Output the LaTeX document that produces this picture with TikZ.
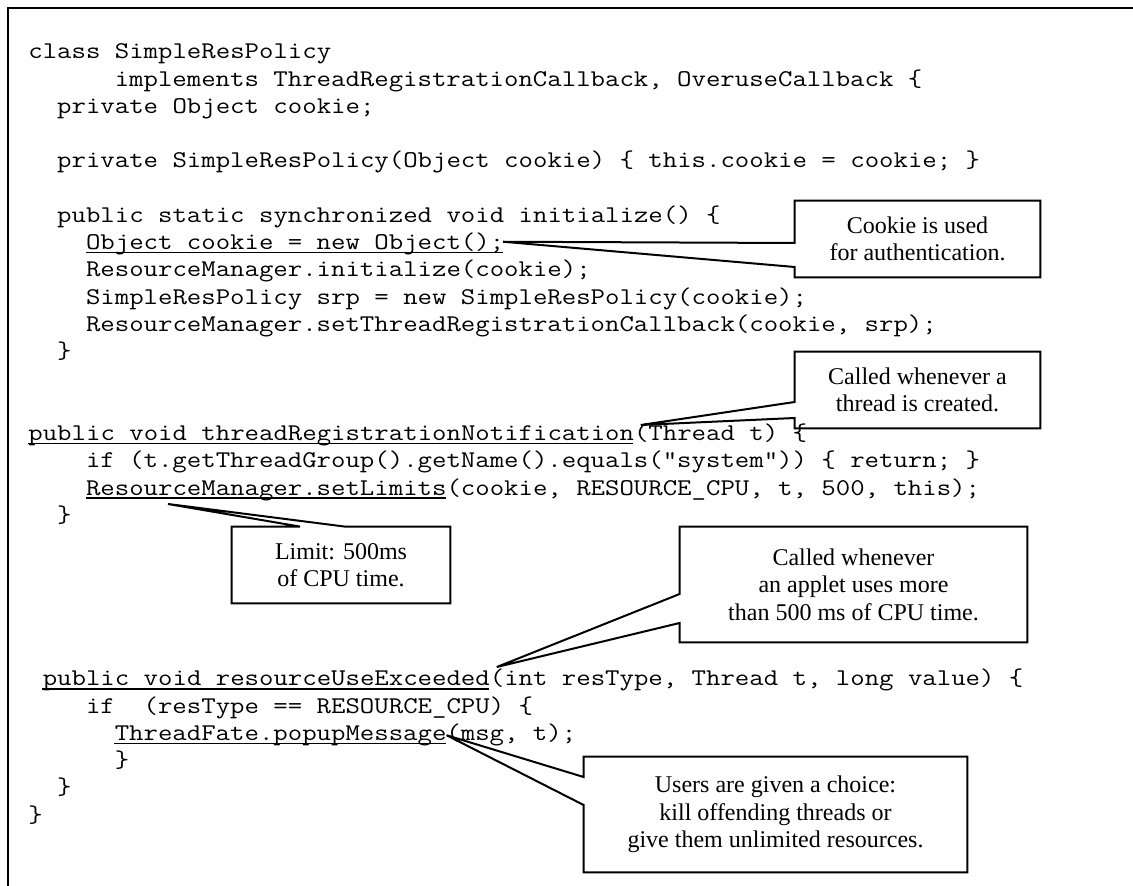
\documentclass[tikz,border=0pt]{standalone}
\usepackage{fontspec}
\setmainfont{Liberation Serif}
\newfontfamily\codefont{lmmono12-regular}[Extension=.otf, FakeStretch=1.1667]
\usetikzlibrary{calc,positioning}
\newcommand{\cw}{14.4}
\tikzstyle{code} = [anchor=base west, inner sep=0pt, font=\fontsize{12}{13.6}\selectfont\codefont\frenchspacing]
\tikzstyle{uline} = [line width=0.75pt]
\tikzstyle{note} = [align=center, inner sep=0pt, font=\fontsize{12}{13.8}\selectfont]
\tikzstyle{callout} = [line width=1pt]
\tikzstyle{frame} = [line width=1pt]

\begin{document}
\begin{tikzpicture}[x=0.5pt, y=-0.5pt]
    \useasboundingbox (0,0) rectangle (1133,886);
    \draw[frame] (8,886) -- (8,8) -- (1133,8);

    % code listing
    \node[code] (l0) at (28,59) {class SimpleResPolicy};
    \node[code] (l1) at (114.4,86.25) {implements ThreadRegistrationCallback, OveruseCallback \{};
    \node[code] (l2) at (56.8,113.5) {private Object cookie;};
    \node[code] (l4) at (56.8,168) {private SimpleResPolicy(Object cookie) \{ this.cookie = cookie; \}};
    \node[code] (l6) at (56.8,222.5) {public static synchronized void initialize() \{};
    \node[code] (l7) at (85.6,249.75) {Object cookie = new Object();};
    \node[code] (l8) at (85.6,277) {ResourceManager.initialize(cookie);};
    \node[code] (l9) at (85.6,304.25) {SimpleResPolicy srp = new SimpleResPolicy(cookie);};
    \node[code] (l10) at (85.6,331.5) {ResourceManager.setThreadRegistrationCallback(cookie, srp);};
    \node[code] (l11) at (56.8,358.75) {\}};
    \node[code] (l14) at (28,440.5) {public void threadRegistrationNotification(Thread t) \{};
    \node[code] (l15) at (85.6,467.75) {if (t.getThreadGroup().getName().equals("system")) \{ return; \}};
    \node[code] (l16) at (85.6,495) {ResourceManager.setLimits(cookie, RESOURCE\_CPU, t, 500, this);};
    \node[code] (l17) at (56.8,522.25) {\}};
    \node[code] (l23) at (42.4,685.75) {public void resourceUseExceeded(int resType, Thread t, long value) \{};
    \node[code] (l24) at (85.6,713) {if\ \ (resType == RESOURCE\_CPU) \{};
    \node[code] (l25) at (114.4,740.25) {ThreadFate.popupMessage(msg, t);};
    \node[code] (l26) at (114.4,767.5) {\}};
    \node[code] (l27) at (56.8,794.75) {\}};
    \node[code] (l28) at (28,822) {\}};

    % underlined parts
    \draw[uline] ([yshift=-1.5pt]l7.base west) -- ++(29*\cw,0);
    \draw[uline] ([yshift=-1.5pt]l14.base west) -- ++(42*\cw,0);
    \draw[uline] ([yshift=-1.5pt]l16.base west) -- ++(25*\cw,0);
    \draw[uline] ([yshift=-1.5pt]l23.base west) -- ++(31*\cw,0);
    \draw[uline] ([yshift=-1.5pt]l25.base west) -- ++(23*\cw,0);

    % pointer tips
    \coordinate (tipcookie) at ($(l7.base west)+(29*\cw,-8)$);
    \coordinate (tipthread) at ($(l14.base west)+(42*\cw+8,-15.5)$);
    \coordinate (tiplimit) at ($(l16.base west)+(82.4,9)$);
    \coordinate (tipapplet) at ($(l23.base west)+(31*\cw+8,-18.75)$);
    \coordinate (tipusers) at ($(l25.base west)+(23*\cw+1,-5)$);

    % callouts
    \node[note, minimum width=122.5pt, minimum height=38pt] (cookie) at (917.5,239) {Cookie is used\\for authentication.};
    \node[note, minimum width=122.5pt, minimum height=38pt] (thread) at (917.5,390) {Called whenever a\\thread is created.};
    \node[note, minimum width=109pt, minimum height=38pt] (limit) at (341,565) {Limit: 500ms\\of CPU time.};
    \node[note, minimum width=173.5pt, minimum height=57.5pt] (applet) at (853.5,584.5) {Called whenever\\an applet uses more\\than 500 ms of CPU time.};
    \node[note, minimum width=191.5pt, minimum height=57.5pt] (users) at (775.5,814.5) {Users are given a choice:\\kill offending threads or\\give them unlimited resources.};

    \draw[callout] (tipcookie) -- ([yshift=-2pt]cookie.west) |- (cookie.north east) |- (cookie.south west) -- ([yshift=-14pt]cookie.west) -- cycle;
    \draw[callout] (tipthread) -- ([yshift=-6pt]thread.west) |- (thread.north east) |- (thread.south west) -- ([yshift=-14pt]thread.west) -- cycle;
    \draw[callout] (tiplimit) -- ([xshift=-20.5pt]limit.north) -| (limit.south west) -| (limit.north east) -- ([xshift=2pt]limit.north) -- cycle;
    \draw[callout] (tipapplet) -- ([yshift=-4.75pt]applet.west) |- (applet.north east) |- (applet.south west) -- ([yshift=-19.25pt]applet.west) -- cycle;
    \draw[callout] (tipusers) -- ([yshift=18.75pt]users.west) |- (users.north east) |- (users.south west) -- ([yshift=4.75pt]users.west) -- cycle;
\end{tikzpicture}
\end{document}
